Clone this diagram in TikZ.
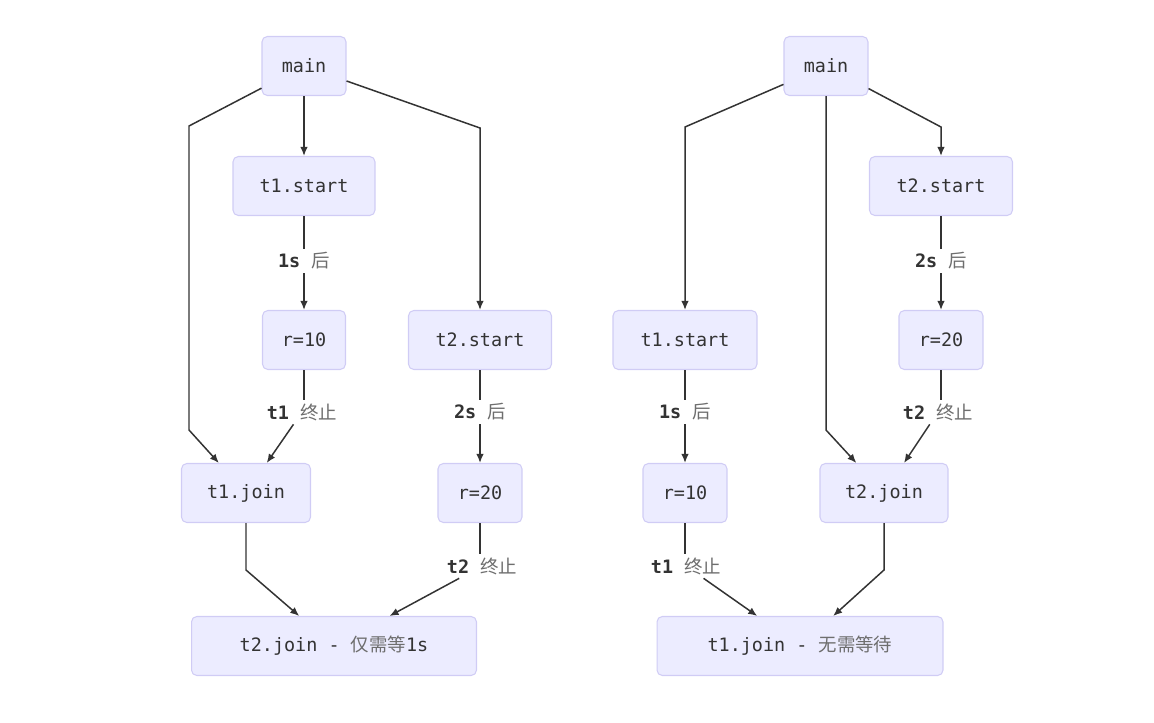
\documentclass[tikz,border=0pt]{standalone}
\usepackage{fontspec}
\setmonofont{DejaVu Sans Mono}
\newfontfamily\cjk{Noto Sans CJK SC}
\usepackage{xcolor}
\usetikzlibrary{arrows.meta,calc}
\definecolor{boxfill}{RGB}{236,236,255}
\definecolor{boxline}{RGB}{208,204,245}
\definecolor{inkgray}{RGB}{51,51,51}
\definecolor{cjkgray}{RGB}{110,110,110}
\tikzset{
  box/.style={draw=boxline, fill=boxfill, rounded corners=3pt, line width=0.6pt,
    minimum height=1.18cm, inner sep=0pt, text=inkgray,
    font=\fontsize{10.5}{12}\selectfont\ttfamily},
  lbl/.style={fill=white, inner sep=2pt, text=inkgray,
    font=\fontsize{10.5}{12}\selectfont\ttfamily\bfseries},
  flow/.style={-{Latex[length=1.8mm,width=1.5mm]}, line width=0.85pt, draw=inkgray},
  line/.style={line width=0.85pt, draw=inkgray}
}
\newcommand{\zh}[1]{{\cjk\mdseries\color{cjkgray}#1}}

\begin{document}
\begin{tikzpicture}[x=0.02cm, y=-0.02cm]
    \useasboundingbox (0,0) rectangle (1154,723);
    % left: t2.join waits only 1s
    \node[box, minimum width=1.68cm] (mainL) at (304,66) {main};
    \node[box, minimum width=2.84cm] (t1sL) at (304,186) {t1.start};
    \node[box, minimum width=1.66cm] (r10L) at (304,340) {r=10};
    \node[box, minimum width=2.86cm] (t2sL) at (480,340) {t2.start};
    \node[box, minimum width=2.58cm] (t1jL) at (246,493) {t1.join};
    \node[box, minimum width=1.68cm] (r20L) at (480,493) {r=20};
    \node[box, minimum width=5.7cm] (t2jL) at (334,646) {t2.join - \zh{仅需等}1s};
    \node[lbl] (l1) at (304,261) {1s \zh{后}};
    \node[lbl] (l2) at (302,412) {t1 \zh{终止}};
    \node[lbl] (l3) at (480,412) {2s \zh{后}};
    \node[lbl] (l4) at (482,566) {t2 \zh{终止}};
    \coordinate (a1) at (189,126);
    \coordinate (a2) at (189,430);
    \coordinate (a3) at (480,128);
    \coordinate (a4) at (246,570);
    \draw[flow] (mainL) -- (a1) -- (a2) -- (t1jL);
    \draw[flow] (mainL) -- (t1sL);
    \draw[flow] (mainL) -- (a3) -- (t2sL);
    \draw[line] (t1sL) -- (l1);
    \draw[flow] (l1) -- (r10L);
    \draw[line] (r10L) -- (r10L |- l2.north);
    \draw[flow] (l2) -- (t1jL);
    \draw[line] (t2sL) -- (l3);
    \draw[flow] (l3) -- (r20L);
    \draw[line] (r20L) -- (r20L |- l4.north);
    \draw[flow] (l4) -- (t2jL);
    \draw[flow] (t1jL) -- (a4) -- (t2jL);
    % right: t1.join need not wait
    \node[box, minimum width=1.68cm] (mainR) at (826,66) {main};
    \node[box, minimum width=2.86cm] (t2sR) at (941,186) {t2.start};
    \node[box, minimum width=2.88cm] (t1sR) at (685,340) {t1.start};
    \node[box, minimum width=1.68cm] (r20R) at (941,340) {r=20};
    \node[box, minimum width=1.68cm] (r10R) at (685,493) {r=10};
    \node[box, minimum width=2.56cm] (t2jR) at (884,493) {t2.join};
    \node[box, minimum width=5.72cm] (t1jR) at (800,646) {t1.join - \zh{无需等待}};
    \node[lbl] (l5) at (941,261) {2s \zh{后}};
    \node[lbl] (l6) at (938,412) {t2 \zh{终止}};
    \node[lbl] (l7) at (685,412) {1s \zh{后}};
    \node[lbl] (l8) at (686,566) {t1 \zh{终止}};
    \coordinate (b1) at (685,127);
    \coordinate (b2) at (826,430);
    \coordinate (b3) at (941,127);
    \coordinate (b4) at (884,570);
    \draw[flow] (mainR) -- (b1) -- (t1sR);
    \draw[flow] (mainR) -- (b2) -- (t2jR);
    \draw[flow] (mainR) -- (b3) -- (t2sR);
    \draw[line] (t2sR) -- (l5);
    \draw[flow] (l5) -- (r20R);
    \draw[line] (r20R) -- (r20R |- l6.north);
    \draw[flow] (l6) -- (t2jR);
    \draw[line] (t1sR) -- (l7);
    \draw[flow] (l7) -- (r10R);
    \draw[line] (r10R) -- (r10R |- l8.north);
    \draw[flow] (l8) -- (t1jR);
    \draw[flow] (t2jR) -- (b4) -- (t1jR);
\end{tikzpicture}
\end{document}
